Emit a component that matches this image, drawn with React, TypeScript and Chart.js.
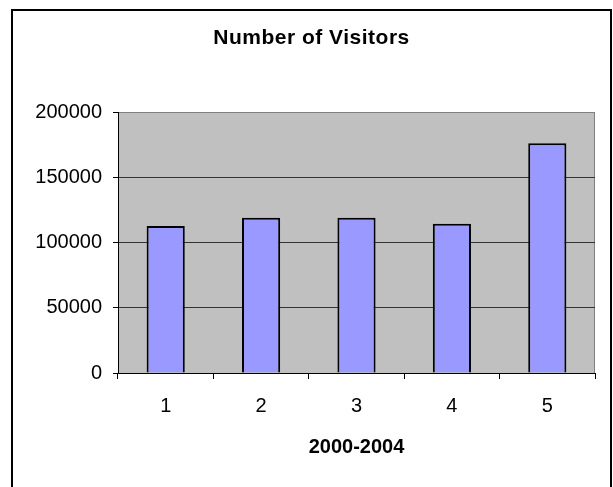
import React, { useRef, useEffect } from 'react';
import { Chart, registerables } from 'chart.js';

Chart.register(...registerables);

// data
const years = ['1', '2', '3', '4', '5'];
const visitors = [112600, 119000, 119000, 114400, 176000];
const yMin = 0;
const yMax = 200000;
const yStep = 50000;
const chartTitle = 'Number of Visitors';
const xTitle = '2000-2004';

const FONT = '"Liberation Sans", Arial, sans-serif';

// grey plot area with a grey top/right edge, like the old Excel chart
const plotBackground = {
  id: 'plotBackground',
  beforeDraw(chart: Chart) {
    const { ctx, chartArea: a } = chart;
    ctx.save();
    ctx.fillStyle = '#C0C0C0';
    ctx.fillRect(a.left, a.top, a.right - a.left, a.bottom - a.top);
    ctx.strokeStyle = '#808080';
    ctx.lineWidth = 1;
    ctx.beginPath();
    ctx.moveTo(a.left, a.top + 0.5);
    ctx.lineTo(a.right - 0.5, a.top + 0.5);
    ctx.lineTo(a.right - 0.5, a.bottom);
    ctx.stroke();
    ctx.restore();
  },
};

// title centred on the frame rather than on the chart box
const frameTitle = {
  id: 'frameTitle',
  afterDraw(chart: Chart) {
    const { ctx } = chart;
    ctx.save();
    ctx.font = `bold 21px ${FONT}`;
    (ctx as any).letterSpacing = '0.5px';
    ctx.fillStyle = '#000';
    ctx.textAlign = 'center';
    ctx.textBaseline = 'middle';
    ctx.fillText(chartTitle, 311.5, 38);
    ctx.restore();
  },
};

const App: React.FC = () => {
  const canvasRef = useRef<HTMLCanvasElement | null>(null);

  useEffect(() => {
    if (!canvasRef.current) return;
    const chart = new Chart(canvasRef.current, {
      type: 'bar',
      data: {
        labels: years,
        datasets: [{
          label: 'Visitors',
          data: visitors,
          backgroundColor: '#9999FF',
          borderColor: '#000000',
          borderWidth: 2,
          barPercentage: 0.4,
          categoryPercentage: 1,
        }],
      },
      options: {
        animation: false,
        responsive: true,
        maintainAspectRatio: false,
        layout: { padding: { left: 0, right: 18, top: 112, bottom: 0 } },
        plugins: {
          legend: { display: false },
          tooltip: { enabled: false },
          title: { display: false },
        },
        scales: {
          x: {
            afterFit: (s: any) => { s.height = 114; },
            grid: {
              display: true,
              offset: true,
              drawOnChartArea: false,
              drawTicks: true,
              tickLength: 6,
              color: '#000',
            },
            border: { display: true, color: '#000', width: 1 },
            ticks: {
              color: '#000',
              padding: 15,
              font: { family: FONT, size: 20, lineHeight: 1.2 },
            },
            title: {
              display: true,
              text: xTitle,
              color: '#000',
              font: { family: FONT, size: 20, weight: 'bold', lineHeight: 1.2 },
              padding: { top: 0, bottom: 28 },
            },
          },
          y: {
            min: yMin,
            max: yMax,
            afterFit: (s: any) => { s.width = 118; },
            grid: {
              color: (ctx: any) => (ctx.tick && ctx.tick.value === yMax ? '#808080' : '#333333'),
              tickColor: '#000',
              tickLength: 5,
              lineWidth: 1,
            },
            border: { display: true, color: '#000', width: 1 },
            ticks: {
              stepSize: yStep,
              color: '#000',
              padding: 11,
              font: { family: FONT, size: 20, lineHeight: 1.2 },
              callback: (v: any) => String(v),
            },
          },
        },
      },
      plugins: [plotBackground, frameTitle],
    });
    return () => chart.destroy();
  }, []);

  return (
    <div style={{ position: 'fixed', left: 0, top: 0, width: 613, height: 487, background: '#fff', overflow: 'hidden' }}>
      <div
        style={{
          position: 'absolute',
          left: 11,
          top: 9,
          width: 597,
          height: 520,
          border: '2px solid #000',
        }}
      />
      <div style={{ position: 'absolute', left: 0, top: 0, width: 613, height: 487 }}>
        <canvas ref={canvasRef}></canvas>
      </div>
    </div>
  );
};

export default App;
